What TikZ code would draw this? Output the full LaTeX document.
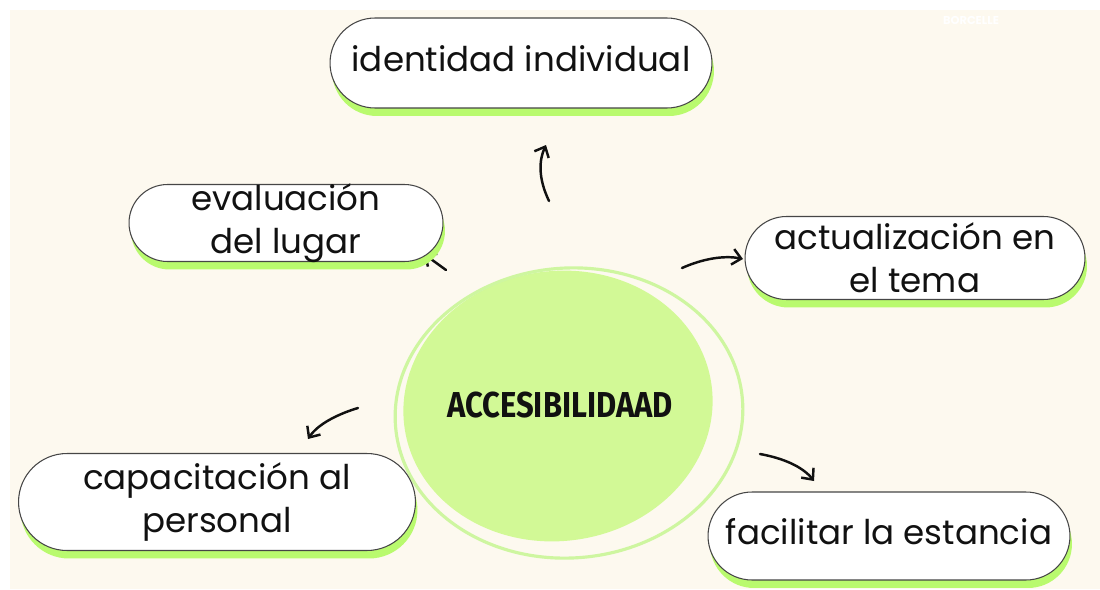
\documentclass[tikz,border=0pt]{standalone}
\usepackage{fontspec}
\setmainfont{Poppins}
\newfontfamily\titlefont{Fira Sans}
\usetikzlibrary{shapes.misc,shapes.geometric,shadows,arrows.meta,backgrounds}

\definecolor{cream}{RGB}{253,249,239}
\definecolor{limefill}{RGB}{210,249,150}
\definecolor{limering}{RGB}{206,246,160}
\definecolor{limeshadow}{RGB}{185,250,110}
\definecolor{boxline}{RGB}{70,70,70}
\definecolor{ink}{RGB}{17,17,17}

\tikzset{
  idea/.style={rounded rectangle, draw=boxline, line width=0.6pt, fill=white,
    text=ink, inner sep=0pt, align=center, font=\fontsize{19.4}{24.5}\selectfont,
    general shadow={fill=limeshadow, shadow xshift=0.04cm, shadow yshift=-0.16cm}},
  hub/.style={ellipse, fill=limefill, minimum width=6.2cm, minimum height=5.4cm},
  ring/.style={ellipse, draw=limering, line width=1.8pt, minimum width=6.96cm, minimum height=5.8cm},
  curvy/.style={ink, line width=1.4pt, line cap=round, -{Straight Barb[length=5pt,width=9pt]}}
}

\begin{document}
\begin{tikzpicture}[x=0.02cm,y=-0.02cm]
\useasboundingbox (0,0) rectangle (1100,589);
\begin{scope}[on background layer]
\fill[cream] (10,10) rectangle (1100,589);
\end{scope}
\node[white,font=\bfseries\fontsize{6.5}{8}\selectfont] (brand) at (971,20) {BORCELLE};

\node[hub,rotate=8] (hub) at (558,406) {};
\node[ring,rotate=4] (ring) at (569,413) {};
\node[ink] (acc) at (560,405) {\titlefont\bfseries\fontsize{20.5}{20}\selectfont\scalebox{0.86}[1]{ACCESIBILIDAAD}};

\node[idea, minimum width=7.64cm, minimum height=1.8cm, text depth=5pt] (ident) at (521,63) {identidad individual};
\node[idea, minimum width=6.28cm, minimum height=1.54cm, text height=39pt, text depth=4.5pt] (eval) at (286,223) {evaluación\\del lugar};
\node[idea, minimum width=6.8cm, minimum height=1.66cm] (actual) at (915,258) {actualización en\\el tema};
\node[idea, minimum width=7.94cm, minimum height=1.94cm] (capac) at (217,502) {capacitación al\\personal};
\node[idea, minimum width=7.24cm, minimum height=1.76cm, text depth=5pt] (facil) at (889,536) {facilitar la estancia};

% arrows around the hub
\coordinate (up1) at (549,201);
\coordinate (up2) at (546,145);
\coordinate (rt1) at (682,268);
\coordinate (rt2) at (743,259);
\coordinate (lf1) at (358,408);
\coordinate (lf2) at (308,439);
\coordinate (dn1) at (760,454);
\coordinate (dn2) at (814,481);
\coordinate (ev1) at (446,270);
\coordinate (ev2) at (424,254);
\draw[curvy] (up1) .. controls (538,178) and (539,160) .. (up2);
\draw[curvy] (rt1) .. controls (702,259) and (724,255) .. (rt2);
\draw[curvy] (lf1) .. controls (338,414) and (318,424) .. (lf2);
\draw[curvy] (dn1) .. controls (782,458) and (802,466) .. (dn2);
\begin{scope}[on background layer]
\draw[curvy] (ev1) -- (ev2);
\end{scope}
\end{tikzpicture}
\end{document}
